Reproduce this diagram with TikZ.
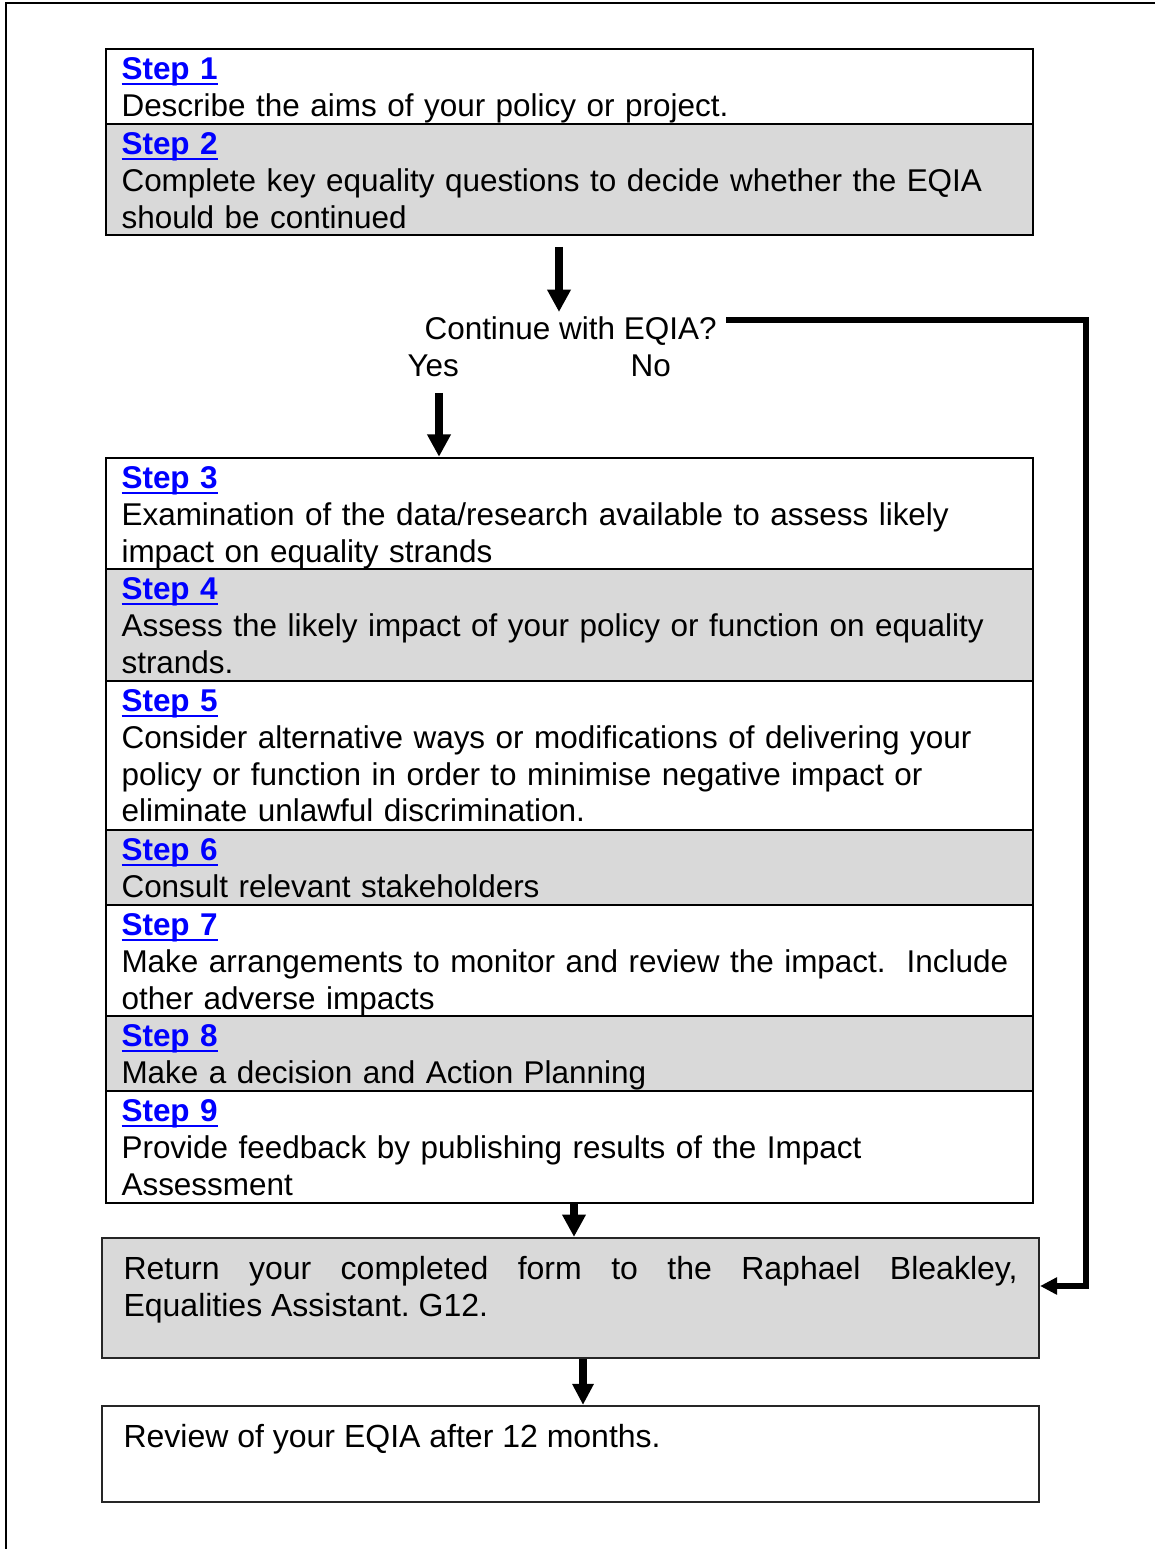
\documentclass[tikz,border=0pt]{standalone}
\usepackage{fontspec}
\setmainfont{Liberation Sans}
\usetikzlibrary{arrows.meta,fit}
\definecolor{rowgray}{RGB}{217,217,217}
\definecolor{linkblue}{RGB}{0,0,255}
\newcommand{\steplabel}[1]{{\color{linkblue}\bfseries\setbox0\hbox{#1}\rlap{\rule[-2.2pt]{\wd0}{0.95pt}}\box0}}
\newcommand{\firststrut}{\rule{0pt}{11.25pt}}
\setlength{\parindent}{0pt}
\frenchspacing
\begin{document}
\begin{tikzpicture}[x=0.375pt,y=-0.375pt,
  every node/.style={font=\fontsize{11.8pt}{13.8pt}\selectfont},
  rowbox/.style={draw=black, line width=0.9pt, inner sep=0pt},
  grayrow/.style={rowbox, fill=rowgray},
  whiterow/.style={rowbox, fill=white},
  rowtext/.style={anchor=north west, inner sep=0pt, text width=345pt, align=left},
  plaintext/.style={inner sep=0pt},
  endtext/.style={inner sep=0pt, font=\fontsize{12pt}{13.8pt}\selectfont},
  endbox/.style={draw=black!85, line width=0.8pt, inner sep=0pt},
  flowarrow/.style={line width=3pt, -{Triangle[length=8.4pt,width=8.4pt]}},
  noline/.style={line width=2.6pt, line join=miter, -{Triangle[length=6.4pt,width=6.2pt]}}
]
\useasboundingbox (0,0) rectangle (1154,1549);
% outer frame (only top and left edges visible)
\draw[line width=1pt] (6,1560) -- (6,3) -- (1160,3);

% ---- first table
\node[whiterow, fit={(106,49) (1033,124)}] (s1) {};
\node[grayrow,  fit={(106,124) (1033,235)}] (s2) {};
\node[rowtext] (s1t) at (121,49) {\firststrut\steplabel{Step 1}\\Describe the aims of your policy or project.};
\node[rowtext] (s2t) at (121,124) {\firststrut\steplabel{Step 2}\\Complete key equality questions to decide whether the EQIA\\should be continued};

% ---- decision
\node[plaintext, anchor=base west] (cont) at (424,340) {Continue with EQIA?};
\node[plaintext, anchor=base west] (yes) at (407,377) {Yes};
\node[plaintext, anchor=base west] (no) at (630,377) {No};

% ---- second table
\node[whiterow, fit={(106,458) (1033,569)}] (s3) {};
\node[grayrow,  fit={(106,569) (1033,681)}] (s4) {};
\node[whiterow, fit={(106,681) (1033,830)}] (s5) {};
\node[grayrow,  fit={(106,830) (1033,905)}] (s6) {};
\node[whiterow, fit={(106,905) (1033,1016)}] (s7) {};
\node[grayrow,  fit={(106,1016) (1033,1091)}] (s8) {};
\node[whiterow, fit={(106,1091) (1033,1203)}] (s9) {};
\node[rowtext] (s3t) at (121,458) {\firststrut\steplabel{Step 3}\\Examination of the data/research available to assess likely\\impact on equality strands};
\node[rowtext] (s4t) at (121,569) {\firststrut\steplabel{Step 4}\\Assess the likely impact of your policy or function on equality\\strands.};
\node[rowtext] (s5t) at (121,681) {\firststrut\steplabel{Step 5}\\Consider alternative ways or modifications of delivering your\\policy or function in order to minimise negative impact or\\eliminate unlawful discrimination.};
\node[rowtext] (s6t) at (121,830) {\firststrut\steplabel{Step 6}\\Consult relevant stakeholders};
\node[rowtext] (s7t) at (121,905) {\firststrut\steplabel{Step 7}\\Make arrangements to monitor and review the impact.~ Include\\other adverse impacts};
\node[rowtext] (s8t) at (121,1016) {\firststrut\steplabel{Step 8}\\Make a decision and Action Planning};
\node[rowtext] (s9t) at (121,1091) {\firststrut\steplabel{Step 9}\\Provide feedback by publishing results of the Impact\\Assessment};

% ---- final boxes
\node[endbox, fill=rowgray, fit={(102,1238) (1039,1358)}] (ret) {};
\node[endbox, fill=white, fit={(102,1406) (1039,1502)}] (rev) {};
\node[endtext, anchor=north west, align=left] (rett) at (123,1238) {\rule{0pt}{15.4pt}\makebox[335.25pt][s]{Return your completed form to the Raphael Bleakley,}\\Equalities Assistant. G12.};
\node[endtext, anchor=north west, align=left] (revt) at (123,1406) {\rule{0pt}{15.4pt}Review of your EQIA after 12 months.};

% ---- connectors
\coordinate (a1s) at (559,247);
\coordinate (a1e) at (559,312);
\draw[flowarrow] (a1s) -- (a1e);

\coordinate (a2s) at (439,393);
\draw[flowarrow] (a2s) -- (s3.north -| a2s);

\coordinate (x3) at (574,0);
\draw[flowarrow] (s9.south -| x3) -- (ret.north -| x3);

\coordinate (x4) at (583,0);
\draw[flowarrow, -{Triangle[length=7.9pt,width=7.6pt]}] (ret.south -| x4) -- (rev.north -| x4);

\coordinate (noStart) at (726,320);
\coordinate (noCorner) at (1086,320);
\coordinate (noLow) at (1086,1286);
\draw[noline] (noStart) -- (noCorner) -- (noLow) -- (ret.east |- noLow);
\end{tikzpicture}
\end{document}
